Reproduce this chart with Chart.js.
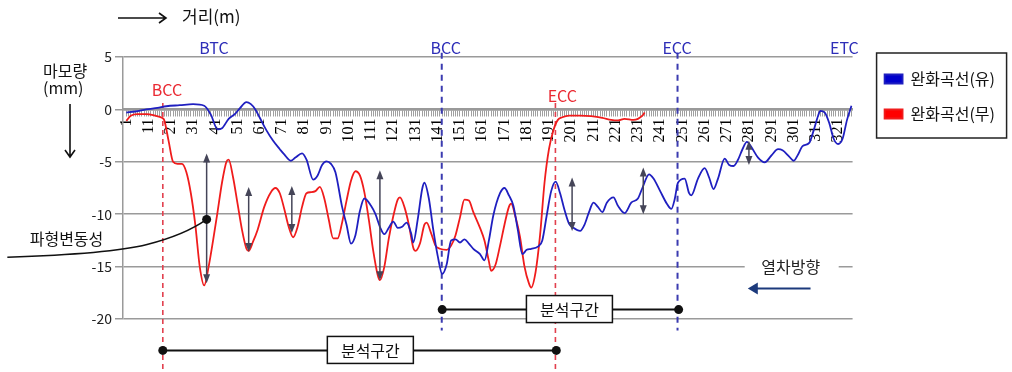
<!DOCTYPE html>
<html>
<head>
<meta charset="utf-8">
<script src="https://cdn.jsdelivr.net/npm/chart.js@4.4.1/dist/chart.umd.min.js"></script>
<style>
  html, body { margin: 0; padding: 0; background: #fff; }
</style>
</head>
<body>
<canvas id="myChart" width="1012" height="372"></canvas>
<script>
// 거리 index, 마모량(mm)
const blueName = '완화곡선(유)'
const redName = '완화곡선(무)'
const bluePts = [[1,-0.3],[5,-0.2],[10,0.0],[15,0.15],[19,0.3],[25,0.4],[31,0.5],[36,0.35],[39,-0.5],[42,-1.9],[44,-1.8],[47,-0.9],[50,-0.4],[52,0.1],[55,0.7],[57,0.5],[59,0.0],[61,-0.8],[64,-2.0],[67,-3.0],[70,-3.8],[72,-4.3],[75,-4.9],[77,-4.6],[80,-4.2],[82,-4.8],[85,-6.7],[87,-6.3],[89,-5.3],[91,-4.95],[93,-5.2],[95,-6.0],[98,-9.3],[100,-11.0],[102,-12.8],[104,-12.0],[106,-9.7],[108,-8.5],[111,-9.2],[113,-10.0],[115,-11.2],[117,-11.9],[119,-11.3],[121,-10.7],[123,-11.3],[125,-11.2],[127,-10.8],[129,-11.8],[130,-12.7],[132,-10.5],[134,-7.6],[135,-7.0],[137,-8.5],[139,-11.5],[141,-14.0],[143,-15.7],[145,-14.8],[147,-12.5],[149,-12.4],[151,-12.7],[153,-12.4],[155,-12.8],[157,-13.3],[160,-13.8],[162,-14.4],[164,-12.5],[166,-10.1],[169,-8.0],[171,-7.5],[173,-8.2],[175,-9.2],[177,-11.5],[179,-13.8],[181,-13.4],[183,-13.3],[186,-13.1],[188,-12.5],[190,-10.1],[192,-7.8],[194,-6.9],[196,-8.0],[198,-9.6],[200,-10.9],[202,-11.3],[205,-11.6],[207,-11.0],[209,-9.8],[211,-8.9],[213,-9.3],[215,-9.8],[217,-8.9],[220,-8.4],[222,-9.2],[225,-9.9],[228,-8.9],[231,-8.5],[233,-7.5],[236,-6.2],[238,-6.6],[241,-7.8],[244,-9.0],[246,-9.5],[247.5,-8.6],[249,-7.0],[252,-6.6],[254,-8.0],[255,-8.2],[258,-6.6],[261,-5.6],[263,-6.5],[265,-7.6],[267,-6.6],[270,-4.7],[272,-5.3],[274,-5.4],[276,-4.8],[278,-3.8],[280,-3.1],[282,-3.6],[285,-4.6],[288,-5.05],[291,-4.4],[294,-3.8],[296,-3.9],[299,-4.5],[301,-4.9],[303,-4.3],[305,-3.5],[308,-3.2],[310,-2.0],[312,-0.6],[313,-0.15],[315,-0.3],[317,-1.3],[319,-2.8],[321,-3.3],[323,-2.8],[325,-1.0],[327,0.35]]
const redPts = [[1,-1.1],[3,-0.6],[6,-0.45],[10,-0.45],[14,-0.6],[17,-0.8],[18,-1.0],[20,-3.0],[22,-5.0],[24,-5.2],[26,-5.2],[28,-6.0],[30,-8.0],[32,-11.0],[34,-15.0],[36,-16.8],[38,-15.0],[40,-12.5],[42,-9.8],[44,-7.0],[46,-5.0],[47,-4.8],[49,-6.5],[51,-9.0],[53,-11.5],[55,-13.3],[56,-13.5],[58,-12.6],[60,-11.5],[63,-9.3],[66,-7.9],[68,-7.5],[70,-8.0],[72,-9.5],[74,-11.2],[76,-12.2],[78,-11.2],[80,-9.3],[82,-8.0],[84,-7.9],[86,-7.8],[88,-7.4],[90,-8.5],[92,-10.5],[94,-12.3],[96,-12.3],[98,-10.8],[100,-8.7],[102,-6.8],[104,-5.9],[106,-6.3],[108,-7.9],[110,-10.5],[112,-13.5],[114,-15.8],[115,-16.3],[117,-15.0],[119,-12.3],[121,-10.2],[123,-8.6],[124,-8.4],[126,-9.3],[128,-11.0],[130,-13.2],[131,-13.5],[133,-12.8],[135,-11.0],[136,-10.8],[138,-11.8],[140,-13.0],[142,-13.3],[145,-13.4],[147,-13.0],[149,-12.0],[151,-10.3],[153,-8.6],[155,-8.7],[157,-9.8],[160,-11.3],[162,-12.5],[164,-14.5],[165,-15.4],[167,-14.8],[169,-13.0],[171,-11.0],[173,-9.3],[174,-9.0],[176,-10.3],[178,-12.2],[180,-15.0],[182,-16.6],[183,-17.0],[185,-15.5],[187,-12.0],[189,-7.0],[191,-3.8],[193,-2.0],[195,-1.0],[197,-0.75],[200,-0.6],[205,-0.6],[210,-0.65],[215,-0.8],[219,-1.0],[222,-1.05],[225,-0.9],[229,-1.0],[231,-0.9],[233,-0.6],[234,-0.3]]
const xLabels = [1,11,21,31,41,51,61,71,81,91,101,111,121,131,141,151,161,171,181,191,201,211,221,231,241,251,261,271,281,291,301,311,321]
const xCount = 327
const yTicks = [5,0,-5,-10,-15,-20]

// 주석 (index, mm)
const blueMarks = [['BTC',40.4],['BCC',144.6],['ECC',248.6],['ETC',323.8]]
const redMarks = [['BCC',19.3,1.9],['ECC',197.0,1.3]]
const blueLines = [142.8, 248.8]
const redLines = [17.4, 193.9]
const waveArrows = [[37.1,-4.2,-16.6],[56.0,-7.4,-13.6],[75.4,-7.3,-11.8],[115.0,-5.8,-16.3],[201.4,-6.5,-11.6],[233.4,-5.55,-10.0],[280.9,-3.0,-5.3]]
const spans = [[17.4,194.3,-23.0,110.7],[143.0,249.3,-19.1,200.2]]
const callout = [[37.1,-10.5],[27.2,-11.8],[-6.6,-13.8],[-52.5,-14.1]]

const KR = "'Noto Sans CJK KR', 'Noto Sans', sans-serif"
Chart.defaults.font.family = KR

function arrowHead(ctx, x, y, dx, dy, len, half) {
    ctx.beginPath()
    ctx.moveTo(x, y)
    ctx.lineTo(x - dx * len - dy * half, y - dy * len + dx * half)
    ctx.lineTo(x - dx * len + dy * half, y - dy * len - dx * half)
    ctx.closePath()
    ctx.fill()
}

const notas = {
    id: 'notas',
    beforeDatasetsDraw(chart) {
        const {ctx, scales: {x, y}} = chart
        ctx.save()
        ctx.lineWidth = 1.6
        ctx.strokeStyle = '#e2404e'
        ctx.setLineDash([5, 4])
        for (const i of redLines) {
            ctx.beginPath()
            ctx.moveTo(x.getPixelForValue(i), y.getPixelForValue(0.6))
            ctx.lineTo(x.getPixelForValue(i), 372)
            ctx.stroke()
        }
        ctx.strokeStyle = '#3b3bb0'
        ctx.lineWidth = 2
        ctx.setLineDash([6, 5])
        for (const i of blueLines) {
            ctx.beginPath()
            ctx.moveTo(x.getPixelForValue(i), y.getPixelForValue(5.4))
            ctx.lineTo(x.getPixelForValue(i), y.getPixelForValue(-21.1))
            ctx.stroke()
        }
        ctx.restore()
    },
    afterDatasetsDraw(chart) {
        const {ctx, chartArea: ca, scales: {x, y}} = chart
        const px = v => x.getPixelForValue(v)
        const py = v => y.getPixelForValue(v)
        ctx.save()
        // 파형변동성 arrows
        ctx.strokeStyle = '#454558'
        ctx.fillStyle = '#454558'
        ctx.lineWidth = 1.5
        for (const [i, a, b] of waveArrows) {
            const xx = px(i)
            ctx.beginPath()
            ctx.moveTo(xx, py(a) + 3)
            ctx.lineTo(xx, py(b) - 3)
            ctx.stroke()
            arrowHead(ctx, xx, py(a), 0, -1, 9, 3.5)
            arrowHead(ctx, xx, py(b), 0, 1, 9, 3.5)
        }
        // callout
        ctx.strokeStyle = '#111'
        ctx.fillStyle = '#111'
        ctx.lineWidth = 1.5
        ctx.beginPath()
        const c = callout.map(p => [px(p[0]), py(p[1])])
        ctx.moveTo(c[0][0], c[0][1])
        ctx.quadraticCurveTo(c[1][0], c[1][1] + 2, (c[1][0] + c[2][0]) / 2, (c[1][1] + c[2][1]) / 2 + 1)
        ctx.quadraticCurveTo(c[2][0], c[2][1], c[3][0], c[3][1])
        ctx.stroke()
        ctx.beginPath()
        ctx.arc(c[0][0], c[0][1], 4.5, 0, Math.PI * 2)
        ctx.fill()
        ctx.font = '16px ' + KR
        ctx.textAlign = 'center'
        ctx.textBaseline = 'middle'
        ctx.fillText('파형변동성', px(-25.9), py(-12.4))

        // 분석구간
        for (const [a, b, lvl, mid] of spans) {
            const yy = py(lvl)
            ctx.strokeStyle = '#111'
            ctx.lineWidth = 2
            ctx.beginPath()
            ctx.moveTo(px(a), yy)
            ctx.lineTo(px(b), yy)
            ctx.stroke()
            ctx.fillStyle = '#111'
            for (const e of [a, b]) {
                ctx.beginPath()
                ctx.arc(px(e), yy, 4.5, 0, Math.PI * 2)
                ctx.fill()
            }
            ctx.fillStyle = '#fff'
            ctx.lineWidth = 1.5
            ctx.fillRect(px(mid) - 43, yy - 14, 86, 27)
            ctx.strokeRect(px(mid) - 43, yy - 14, 86, 27)
            ctx.fillStyle = '#111'
            ctx.fillText('분석구간', px(mid), yy)
        }

        // 열차방향
        ctx.fillStyle = '#fff'
        ctx.fillRect(px(279), py(-15) - 10, 94, 20)
        ctx.fillStyle = '#222'
        ctx.fillText('열차방향', px(299.7), py(-15.0))
        ctx.strokeStyle = '#1c3a7c'
        ctx.fillStyle = '#1c3a7c'
        ctx.lineWidth = 2
        ctx.beginPath()
        ctx.moveTo(px(308.6), py(-17.1))
        ctx.lineTo(px(280.4) + 6, py(-17.1))
        ctx.stroke()
        arrowHead(ctx, px(280.4), py(-17.1), -1, 0, 10, 6)

        // station labels
        ctx.font = '16px ' + KR
        ctx.fillStyle = '#2e2eb8'
        for (const [t, i] of blueMarks) ctx.fillText(t, px(i), ca.top - 9)
        ctx.fillStyle = '#ea2a33'
        for (const [t, i, v] of redMarks) ctx.fillText(t, px(i), py(v))
        ctx.restore()
    },
    afterDraw(chart) {
        const {ctx, chartArea: ca, legend} = chart
        ctx.save()
        // 거리(m)
        ctx.strokeStyle = '#111'
        ctx.lineWidth = 1.6
        ctx.beginPath()
        ctx.moveTo(ca.left - 5, 18)
        ctx.lineTo(ca.left + 43, 18)
        ctx.moveTo(ca.left + 36, 13)
        ctx.lineTo(ca.left + 43, 18)
        ctx.lineTo(ca.left + 36, 23)
        ctx.stroke()
        ctx.fillStyle = '#111'
        ctx.font = '17px ' + KR
        ctx.textBaseline = 'middle'
        ctx.fillText('거리(m)', ca.left + 59, 17)
        // 마모량
        ctx.font = '16px ' + KR
        ctx.fillText('마모량', 43, 71)
        ctx.fillText('(mm)', 43, 88)
        ctx.beginPath()
        ctx.moveTo(70, 104)
        ctx.lineTo(70, 157)
        ctx.moveTo(65, 150)
        ctx.lineTo(70, 157)
        ctx.lineTo(75, 150)
        ctx.stroke()
        // legend border
        const hb = legend.legendHitBoxes
        if (hb && hb.length) {
            const l = hb[0].left - 8
            const t = hb[0].top - 18
            const b = hb[hb.length - 1].top + hb[hb.length - 1].height + 16
            ctx.strokeStyle = '#222'
            ctx.lineWidth = 1.5
            ctx.strokeRect(l, t, 130, b - t)
        }
        ctx.restore()
    }
}

const ctx = document.getElementById('myChart')
new Chart(ctx, {
    type: 'line',
    data: {
        datasets: [{
            label: blueName,
            data: bluePts.map(p => ({x: p[0], y: p[1]})),
            borderColor: '#1f1fc0',
            backgroundColor: '#0000cc',
            borderWidth: 1.8,
            pointRadius: 0,
            cubicInterpolationMode: 'monotone'
        }, {
            label: redName,
            data: redPts.map(p => ({x: p[0], y: p[1]})),
            borderColor: '#f01c1c',
            backgroundColor: '#ff0000',
            borderWidth: 1.8,
            pointRadius: 0,
            cubicInterpolationMode: 'monotone'
        }]
    },
    options: {
        responsive: false,
        animation: false,
        events: [],
        layout: { padding: { top: 52, left: 0, right: 7, bottom: 53 } },
        plugins: {
            tooltip: { enabled: false },
            legend: {
                position: 'right',
                align: 'start',
                labels: { boxWidth: 18, boxHeight: 9, padding: 19, color: '#111', font: { size: 16 } }
            }
        },
        scales: {
            x: {
                type: 'linear',
                position: { y: 0 },
                min: -0.5,
                max: xCount + 0.5,
                afterBuildTicks: s => {
                    const t = []
                    for (let i = 1; i <= xCount; i++) t.push({ value: i })
                    s.ticks = t
                },
                ticks: {
                    autoSkip: false,
                    minRotation: 90,
                    maxRotation: 90,
                    padding: 3,
                    color: '#000',
                    font: { family: "'Liberation Serif', serif", size: 16 },
                    callback: v => xLabels.includes(v) ? String(v) : ''
                },
                grid: { drawOnChartArea: false, drawTicks: true, tickLength: 6, color: '#a0a0a0', lineWidth: 1 },
                border: { color: '#999', width: 2.5 }
            },
            xTop: {
                type: 'linear',
                position: 'top',
                display: true,
                ticks: { display: false },
                grid: { display: false },
                border: { display: false },
                afterFit: s => { s.height = 5 }
            },
            y: {
                min: -20,
                max: 5,
                afterBuildTicks: s => { s.ticks = yTicks.map(v => ({ value: v })) },
                ticks: { color: '#222', padding: 3, font: { size: 14 } },
                grid: { color: '#9a9a9a', lineWidth: 1.5, tickLength: 8 },
                border: { color: '#9a9a9a', width: 1.5 },
                afterFit: s => { s.width = 123 }
            },
            yR: {
                position: 'right',
                display: true,
                ticks: { display: false },
                grid: { display: false },
                border: { display: false },
                afterFit: s => { s.width = 13 }
            }
        }
    },
    plugins: [notas]
})
</script>
</body>
</html>
